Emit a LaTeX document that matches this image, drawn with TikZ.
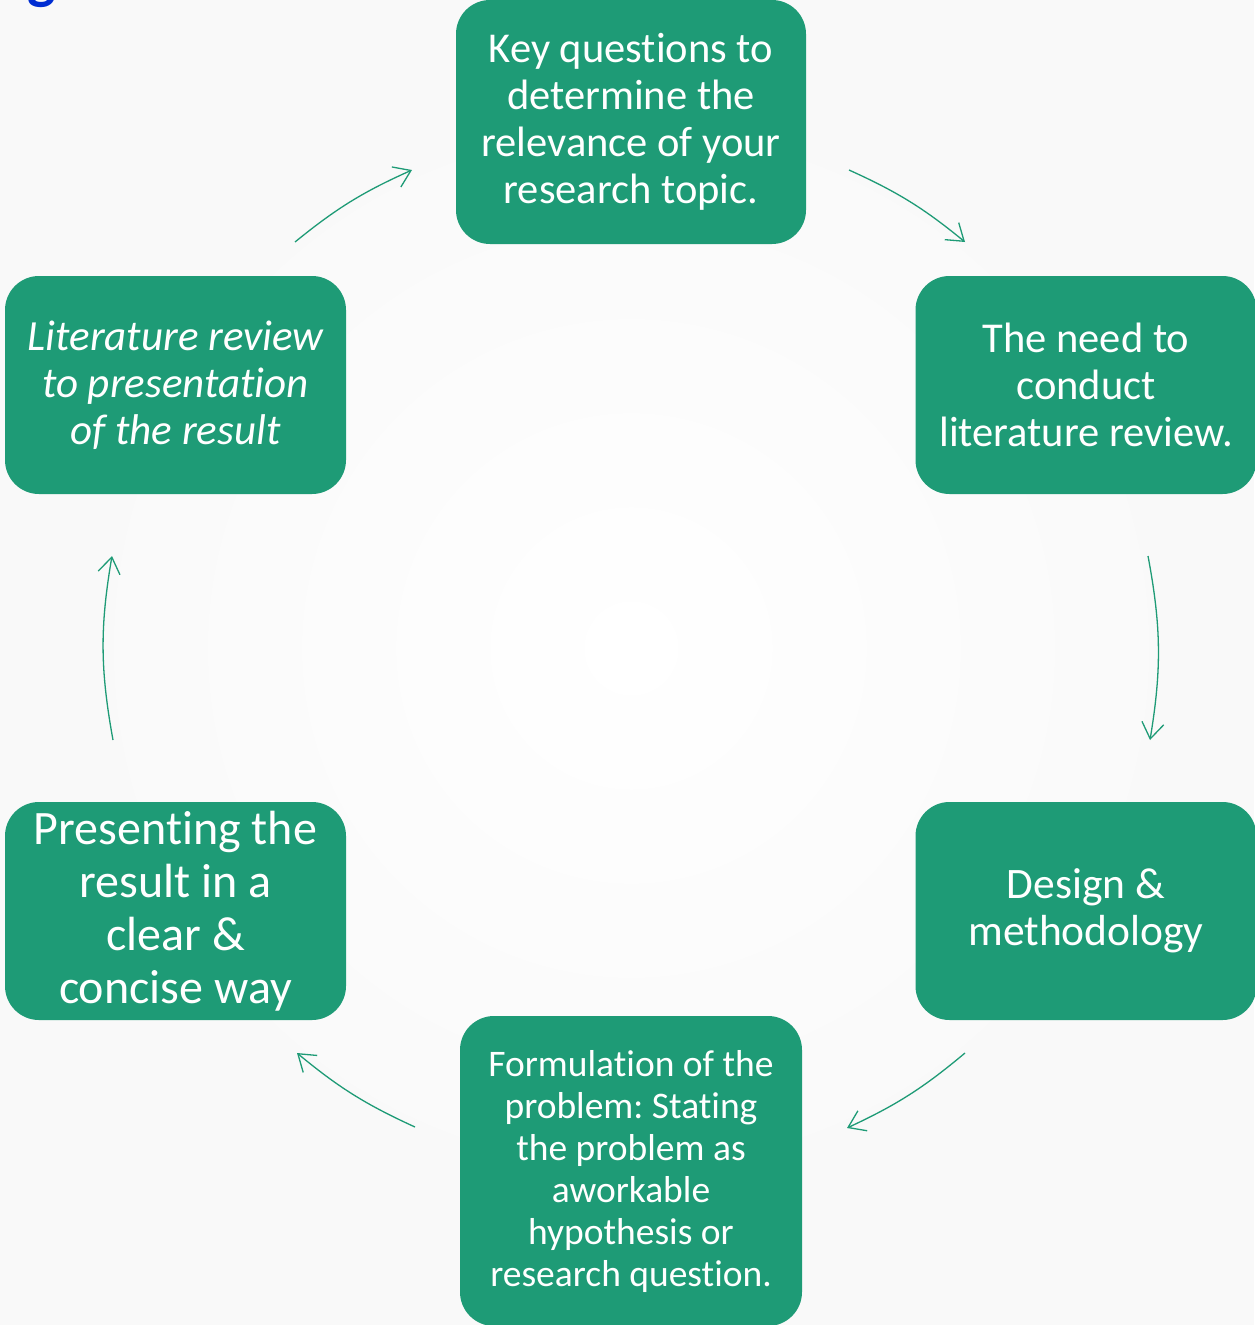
\documentclass[tikz,border=0pt]{standalone}
\usepackage{fontspec}
\setmainfont{Carlito}[Ligatures=NoCommon]
\usetikzlibrary{arrows.meta}
\definecolor{stagegreen}{RGB}{30,155,118}
\definecolor{titleblue}{RGB}{0,45,210}
\frenchspacing

\begin{document}
\begin{tikzpicture}[
    x=1pt, y=1pt,
    stage/.style={fill=stagegreen, rounded corners=34pt, text=white, align=center, inner sep=0pt,
        minimum width=341pt, minimum height=218pt, font=\fontsize{42.5}{47}\selectfont},
    cyc/.style={-{Straight Barb[length=16pt,width=22pt]}, draw=stagegreen, line width=1.3pt}
]
\useasboundingbox (0,0) rectangle (1254,-1325);
\fill[gray!5] (0,0) rectangle (1254,-1325);
\shade[inner color=white, outer color=gray!5] (631,-648) circle[radius=600];

\node[anchor=base east, inner sep=0pt, text=titleblue, font=\fontsize{60}{72}\selectfont\bfseries] (title) at (56,2) {g};

\node[stage, minimum width=350pt, minimum height=244pt] (key) at (631,-122) {Key questions to\\determine the\\relevance of your\\research topic.};
\node[stage] (need) at (1086,-385) {The need to\\conduct\\literature review.};
\node[stage, font=\fontsize{43.5}{47}\selectfont] (design) at (1086,-911) {Design \&\\methodology};
\node[stage, minimum width=342pt, minimum height=310pt, font=\fontsize{37.5}{42}\selectfont] (formul) at (631,-1171) {Formulation of the\\problem: Stating\\the problem as\\aworkable\\hypothesis or\\research question.};
\node[stage, font=\fontsize{48}{53}\selectfont] (present) at (175.5,-911) {Presenting the\\result in a\\clear \&\\concise way};
\node[stage, font=\fontsize{43}{47}\selectfont\itshape] (litrev) at (175.5,-385) {Literature review\\to presentation\\of the result};

\coordinate (lk-s) at (295,-242);
\coordinate (lk-e) at (412,-170);
\coordinate (kn-s) at (849,-170);
\coordinate (kn-e) at (965,-242);
\coordinate (nd-s) at (1148,-556);
\coordinate (nd-e) at (1150,-740);
\coordinate (df-s) at (965,-1053);
\coordinate (df-e) at (847,-1128);
\coordinate (fp-s) at (415,-1127);
\coordinate (fp-e) at (297,-1053);
\coordinate (pl-s) at (113,-740);
\coordinate (pl-e) at (112,-556);

\draw[cyc] (lk-s) to[bend left=7.5] (lk-e);
\draw[cyc] (kn-s) to[bend left=7.5] (kn-e);
\draw[cyc] (nd-s) to[bend left=10] (nd-e);
\draw[cyc] (df-s) to[bend left=7.5] (df-e);
\draw[cyc] (fp-s) to[bend left=7.5] (fp-e);
\draw[cyc] (pl-s) to[bend left=10] (pl-e);
\end{tikzpicture}
\end{document}
